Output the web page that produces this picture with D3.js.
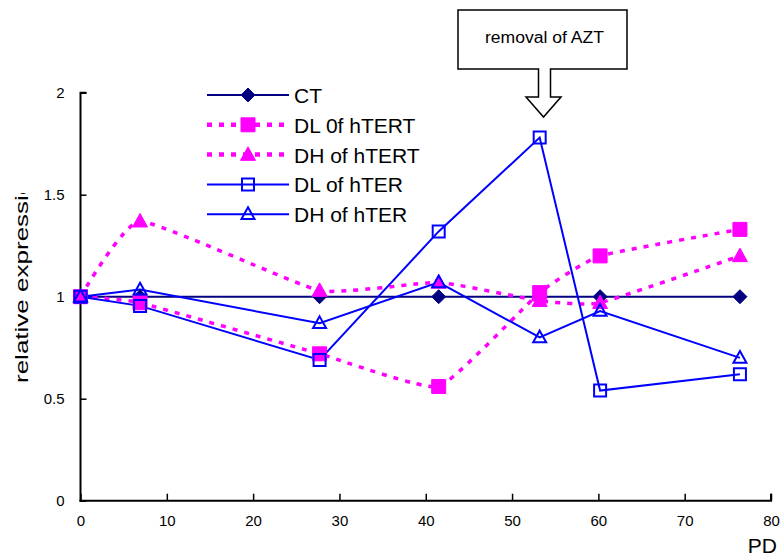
<!DOCTYPE html>
<html>
<head>
<meta charset="utf-8">
<script src="https://cdn.jsdelivr.net/npm/d3@7"></script>
<style>
  body { margin: 0; background: #fff; }
  svg { display: block; }
  text { font-family: "Liberation Sans", Arial, sans-serif; fill: #000; }
</style>
</head>
<body>
<svg id="chart" width="781" height="555"></svg>
<script>
// Population doublings (PD) at which samples were measured
const pd = [0, 6.9, 27.7, 41.5, 53.2, 60.2, 76.4];

// Relative expression per condition
const ct      = [1, 1, 1, 1, 1, 1, 1];
const dlHTERT = [1, 0.97, 0.72, 0.56, 1.02, 1.20, 1.33];
const dhHTERT = [1, 1.37, 1.03, 1.07, 0.98, 0.97, 1.20];
const dlHTER  = [1, 0.955, 0.69, 1.32, 1.78, 0.54, 0.62];
const dhHTER  = [1, 1.035, 0.87, 1.07, 0.80, 0.93, 0.70];

const seriesNames = ["CT", "DL 0f hTERT", "DH of hTERT", "DL of hTER", "DH of hTER"];
const xTicks = [0, 10, 20, 30, 40, 50, 60, 70, 80];
const yTicks = [0, 0.5, 1, 1.5, 2];
const xTitle = "PD";
const yTitle = "relative expression";
const note = "removal of AZT";

const svg = d3.select("#chart");

const x = d3.scaleLinear().domain([0, 80]).range([80.5, 771]);
const y = d3.scaleLinear().domain([0, 2]).range([500.7, 92.7]);

// Series styling: hTERT series are smoothed dotted lines
const NAVY = "#000080", MAG = "#FF00FF", BLUE = "#0000FF";
const smooth = d3.curveCardinal.tension(0.6);
const styles = [
  { color: NAVY, width: 2,   dash: null,  curve: d3.curveLinear, marker: "diamond",  fill: NAVY },
  { color: MAG,  width: 3.5, dash: "5,7", curve: smooth,         marker: "square",   fill: MAG, size: 14 },
  { color: MAG,  width: 3.5, dash: "5,7", curve: smooth,         marker: "triangle", fill: MAG, size: 15 },
  { color: BLUE, width: 2,   dash: null,  curve: d3.curveLinear, marker: "square",   fill: "none", size: 12 },
  { color: BLUE, width: 2,   dash: null,  curve: d3.curveLinear, marker: "triangle", fill: "none", size: 13 }
];
const values = [ct, dlHTERT, dhHTERT, dlHTER, dhHTER];
const series = seriesNames.map((name, i) => ({
  name, style: styles[i],
  points: pd.map((p, j) => ({ x: p, y: values[i][j] }))
}));

function markerPath(kind, size) {
  if (kind === "diamond") {
    const r = 7;
    return `M0,${-r}L${r},0L0,${r}L${-r},0Z`;
  }
  if (kind === "square") {
    const h = size / 2;
    return `M${-h},${-h}H${h}V${h}H${-h}Z`;
  }
  const w = size / 2, h = size * 0.9;
  return `M0,${-h / 2 - 1}L${w},${h / 2 - 1}L${-w},${h / 2 - 1}Z`;
}

function drawMarker(g, s, cx, cy) {
  g.append("path")
    .attr("d", markerPath(s.marker, s.size))
    .attr("transform", `translate(${cx},${cy})`)
    .attr("fill", s.fill)
    .attr("stroke", s.color)
    .attr("stroke-width", s.fill === "none" ? 2 : 1)
    .attr("stroke-linejoin", "miter");
}

// Axes (ticks point inward)
const xAxis = svg.append("g").attr("transform", `translate(0,${y(0)})`)
  .call(d3.axisBottom(x).tickValues(xTicks).tickSizeInner(-7).tickSizeOuter(0).tickPadding(20).tickFormat(d3.format("d")));
const yAxis = svg.append("g").attr("transform", `translate(${x(0)},0)`)
  .call(d3.axisLeft(y).tickValues(yTicks).tickSizeInner(-6).tickSizeOuter(0).tickPadding(16).tickFormat(d => String(d)));
[xAxis, yAxis].forEach(a => {
  a.select(".domain").attr("stroke", "#000").attr("stroke-width", 2);
  a.selectAll(".tick line").attr("stroke", "#000").attr("stroke-width", 1.5);
  a.selectAll(".tick text").attr("font-size", 15).attr("font-family", "Liberation Sans, Arial, sans-serif").attr("fill", "#000");
});
xAxis.select(".domain").attr("d", `M${x(0) - 1},0H${x(80)}V-7`);
yAxis.select(".domain").attr("d", `M6,${y(2)}H0V${y(0) + 1}`);
xAxis.selectAll(".tick text").attr("dy", "0.35em");

// Lines
const lineGen = d3.line().x(d => x(d.x)).y(d => y(d.y));
series.forEach(s => {
  svg.append("path")
    .datum(s.points)
    .attr("d", lineGen.curve(s.style.curve))
    .attr("fill", "none")
    .attr("stroke", s.style.color)
    .attr("stroke-width", s.style.width)
    .attr("stroke-dasharray", s.style.dash);
});

// Markers
series.forEach(s => {
  const g = svg.append("g");
  s.points.forEach(p => drawMarker(g, s.style, x(p.x), y(p.y)));
});

// Legend
const legend = svg.append("g");
series.forEach((s, i) => {
  const cy = 95 + i * 29.8;
  legend.append("line")
    .attr("x1", 207).attr("x2", 289).attr("y1", cy).attr("y2", cy)
    .attr("stroke", s.style.color)
    .attr("stroke-width", s.style.dash ? 4.5 : 2)
    .attr("stroke-dasharray", s.style.dash);
  drawMarker(legend, s.style, 248, cy);
  legend.append("text")
    .attr("x", 294).attr("y", cy + 8)
    .attr("font-size", 21)
    .text(s.name);
});

// Axis titles
svg.append("text")
  .attr("x", 777).attr("y", 552.5)
  .attr("text-anchor", "end")
  .attr("font-size", 21)
  .text(xTitle);

svg.append("clipPath").attr("id", "ytitle-clip")
  .append("rect").attr("x", 0).attr("y", 193).attr("width", 60).attr("height", 362);
svg.append("g").attr("clip-path", "url(#ytitle-clip)")
  .append("text")
  .attr("transform", "translate(28,383) rotate(-90) scale(1.37,1)")
  .attr("font-size", 19)
  .text(yTitle);

// Callout box with downward arrow
const callout = svg.append("g");
callout.append("path")
  .attr("d", "M458,10H627V69H550.5V97H561L543.5,117L526,97H538.5V69H458Z")
  .attr("fill", "#fff")
  .attr("stroke", "#000")
  .attr("stroke-width", 1.5);
callout.append("text")
  .attr("x", 544.5).attr("y", 42.7)
  .attr("text-anchor", "middle")
  .attr("font-size", 16)
  .attr("textLength", 119)
  .attr("lengthAdjust", "spacingAndGlyphs")
  .text(note);
</script>
</body>
</html>
